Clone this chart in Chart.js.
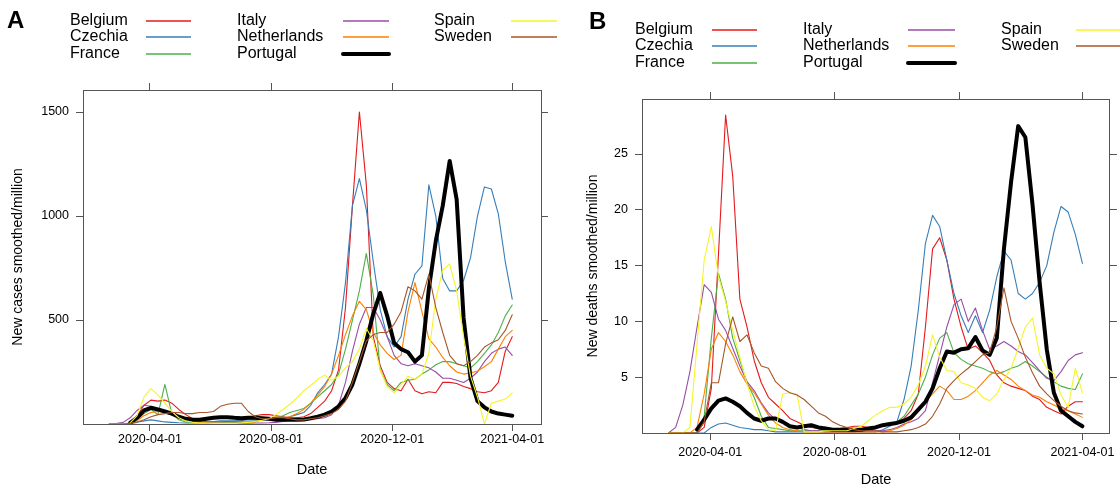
<!DOCTYPE html>
<html>
<head>
<meta charset="utf-8">
<script src="https://cdn.jsdelivr.net/npm/chart.js@4.4.1/dist/chart.umd.min.js"></script>
<style>
  body { margin: 0; background: #fff; }
  #wrap { position: relative; width: 1120px; height: 489px; overflow: hidden; }
  canvas { position: absolute; top: 0; }
  #chartA { left: 0; }
  #chartB { left: 560px; }
</style>
</head>
<body>
<div id="wrap">
  <canvas id="chartA" width="560" height="489"></canvas>
  <canvas id="chartB" width="560" height="489"></canvas>
</div>
<script>
const countries = ['Belgium', 'Czechia', 'France', 'Italy', 'Netherlands', 'Portugal', 'Spain', 'Sweden']

// days since 2020-01-01, weekly samples
const days = [50, 57, 64, 71, 78, 85, 92, 99, 106, 113, 120, 127, 134, 141, 148, 155, 162, 169, 176, 183,
  190, 197, 204, 211, 218, 225, 232, 239, 246, 253, 260, 267, 274, 281, 288, 295, 302, 309, 316, 323,
  330, 337, 344, 351, 358, 365, 372, 379, 386, 393, 400, 407, 414, 421, 428, 435, 442, 449, 456]
const tickDays = [91, 213, 335, 456]
const tickLabels = ['2020-04-01', '2020-08-01', '2020-12-01', '2021-04-01']
const casesTicks = [500, 1000, 1500]
const deathsTicks = [5, 10, 15, 20, 25]

// new cases smoothed per million (null = no data yet)
const casesBelgium = [0, 0, 0, 5, 40, 90, 115, 110, 115, 100, 70, 45, 25, 15, 12, 10, 10, 12, 12, 15,
  25, 40, 45, 45, 40, 35, 30, 30, 35, 50, 80, 110, 160, 260, 560, 1050, 1500, 1150, 420, 280,
  200, 170, 160, 215, 160, 145, 155, 150, 200, 200, 195, 180, 170, 155, 150, 160, 200, 350, 420]
const casesCzechia = [0, 0, 0, 2, 8, 15, 20, 15, 10, 8, 6, 5, 5, 5, 8, 12, 15, 15, 15, 18,
  20, 20, 20, 20, 22, 25, 35, 45, 55, 90, 150, 190, 240, 420, 680, 1050, 1180, 1030, 780, 550,
  420, 370, 420, 600, 720, 760, 1150, 1000, 700, 640, 640, 690, 800, 1000, 1140, 1130, 1010, 780, 600]
const casesFrance = [0, 0, 0, 3, 20, 50, 70, 45, 190, 50, 20, 10, 8, 7, 6, 6, 6, 8, 8, 10,
  12, 15, 20, 25, 30, 40, 55, 65, 75, 100, 130, 160, 190, 240, 360, 500, 640, 820, 620, 260,
  190, 160, 200, 210, 215, 240, 260, 285, 300, 300, 290, 280, 270, 300, 340, 380, 440, 520, 572]
const casesItaly = [0, 2, 8, 30, 65, 90, 85, 70, 55, 45, 35, 25, 15, 10, 6, 5, 4, 3, 3, 3,
  4, 5, 5, 6, 8, 12, 18, 22, 25, 25, 25, 30, 45, 90, 200, 350, 480, 560, 560, 500,
  420, 330, 290, 280, 290, 280, 270, 250, 220, 220, 210, 200, 220, 250, 300, 340, 360, 370, 330]
const casesNetherlands = [0, 0, 0, 3, 15, 40, 55, 60, 55, 45, 30, 20, 12, 8, 5, 3, 3, 3, 3, 4,
  6, 10, 20, 30, 35, 30, 35, 50, 70, 100, 140, 180, 240, 330, 430, 520, 590, 550, 440, 380,
  340, 310, 330, 540, 680, 540, 410, 370, 320, 280, 250, 240, 245, 255, 275, 300, 360, 420, 450]
const casesPortugal = [null, null, null, 5, 30, 65, 78, 70, 60, 50, 35, 25, 20, 20, 25, 30, 33, 33, 30, 28,
  30, 30, 28, 25, 20, 20, 20, 20, 22, 28, 35, 45, 60, 85, 125, 190, 290, 400, 530, 630,
  520, 390, 360, 345, 300, 330, 650, 880, 1050, 1265, 1080, 510, 220, 110, 80, 60, 50, 45, 40]
const casesSpain = [0, 0, 0, 5, 40, 130, 170, 140, 100, 60, 30, 15, 8, 5, 5, 3, 3, 3, 3, 5,
  8, 12, 18, 25, 45, 70, 95, 125, 160, 185, 215, 235, 210, 230, 270, 300, 360, 460, 400, 260,
  180, 150, 190, 230, 215, 240, 340, 600, 740, 770, 640, 420, 230, 130, 0, 100, 110, 120, 150]
const casesSweden = [0, 0, 0, 3, 10, 20, 35, 45, 50, 55, 55, 50, 50, 55, 55, 60, 85, 95, 100, 100,
  60, 35, 25, 25, 30, 30, 25, 20, 20, 25, 30, 40, 50, 70, 110, 200, 300, 400, 430, 440,
  440, 480, 540, 660, 640, 600, 720, 560, 440, 330, 290, 280, 300, 330, 370, 390, 405, 450, 525]

// new deaths smoothed per million
const deathsBelgium = [0, 0, 0, 0, 0, 0.5, 4, 16, 28.5, 23, 12, 9.5, 6.5, 4.5, 3.2, 2.6, 2, 1.3, 1, 0.7,
  0.5, 0.4, 0.3, 0.3, 0.4, 0.5, 0.6, 0.6, 0.5, 0.5, 0.6, 0.8, 1, 1.3, 2, 3.5, 9.5, 16.5, 17.5, 15.5,
  12, 9.5, 7.5, 7.8, 7.2, 6.5, 5.2, 4.5, 4.2, 4, 3.8, 3.3, 3, 2.3, 2, 1.7, 2.4, 2.8, 2.8]
const deathsCzechia = [0, 0, 0, 0, 0, 0, 0.5, 0.8, 0.9, 0.7, 0.5, 0.4, 0.3, 0.3, 0.2, 0.1, 0.1, 0.1, 0.1, 0.1,
  0.1, 0.1, 0.1, 0.1, 0.1, 0.1, 0.1, 0.1, 0.1, 0.1, 0.3, 0.6, 1, 3, 6, 11, 17, 19.5, 18.5, 15.5,
  12.5, 10.5, 9, 10.5, 9, 11, 14, 16.3, 15.5, 12.5, 12, 12.5, 13.5, 15, 18, 20.3, 19.8, 17.8, 15.2]
const deathsFrance = [0, 0, 0, 0, 0, 1.5, 8.5, 14.3, 12, 8.5, 6.5, 4.5, 3.2, 1.5, 0.5, 0.4, 0.3, 0.2, 0.2, 0.2,
  0.2, 0.2, 0.2, 0.2, 0.2, 0.2, 0.2, 0.2, 0.3, 0.4, 0.6, 0.8, 1, 1.5, 2.5, 3.5, 5, 7, 8.5, 9,
  7.2, 6.6, 6.2, 6, 5.8, 5.5, 5.3, 5.5, 5.8, 6, 6.4, 6, 5.5, 5, 4.6, 4.2, 4, 3.9, 5.3]
const deathsItaly = [0, 0.5, 2.5, 5.5, 9.5, 13.3, 12.6, 10.2, 9.2, 7.6, 6, 4.6, 3.8, 2.7, 1.8, 1.2, 0.9, 0.7, 0.5, 0.3,
  0.2, 0.2, 0.1, 0.1, 0.1, 0.1, 0.1, 0.2, 0.2, 0.2, 0.2, 0.3, 0.5, 0.8, 1, 1.3, 2, 4.5, 7, 9.5,
  11.5, 12, 10, 11.2, 9.2, 7.5, 7.8, 8.2, 7.8, 7.3, 7, 6.3, 5.6, 4.9, 4.7, 5.5, 6.5, 7, 7.2]
const deathsNetherlands = [0, 0, 0, 0, 0.5, 3.5, 7.5, 9, 8.2, 7, 5.5, 4.4, 3.6, 2.6, 1.6, 0.9, 0.5, 0.3, 0.2, 0.1,
  0.1, 0.1, 0.1, 0.1, 0.1, 0.1, 0.1, 0.1, 0.1, 0.1, 0.1, 0.2, 0.4, 0.7, 1.2, 2, 2.8, 3.5, 4.2, 3.8,
  3, 3, 3.3, 3.8, 4.5, 5.2, 5.6, 5.2, 4.8, 4.2, 3.8, 3.4, 3.2, 2.8, 2.5, 2.2, 2, 1.7, 1.4]
const deathsPortugal = [null, null, null, null, 0.3, 1.2, 2.2, 2.9, 3.1, 2.8, 2.4, 1.8, 1.3, 1.1, 1.3, 1.3, 1, 0.6, 0.5, 0.6,
  0.7, 0.5, 0.4, 0.3, 0.3, 0.3, 0.3, 0.3, 0.4, 0.5, 0.7, 0.8, 0.9, 1.1, 1.4, 2.1, 2.8, 4, 5.8, 7.3,
  7.2, 7.5, 7.6, 8.6, 7.4, 7, 8.5, 16.5, 22.5, 27.5, 26.5, 20.5, 13.5, 7.5, 3.6, 2, 1.5, 1, 0.6]
const deathsSpain = [0, 0, 0, 0.5, 8, 15.5, 18.5, 14, 11.8, 9.2, 6.8, 4.4, 2.4, 1.1, 0.3, 0.2, 3.5, 3.6, 3.5, 0.1,
  0.1, 0.1, 0.2, 0.2, 0.2, 0.2, 0.4, 0.6, 1.1, 1.6, 2, 2.3, 2.3, 2.6, 3.2, 4.3, 6, 8.8, 6.8, 5.6,
  5.5, 4.5, 4.3, 4, 3.2, 2.9, 3.5, 4.8, 5.8, 7.6, 9.5, 10.3, 7, 5.8, 5.3, 3.4, 2.3, 5.8, 3.6]
const deathsSweden = [0, 0, 0, 0, 0, 1, 4.5, 4.5, 8, 10.4, 8.2, 8.8, 7.2, 6, 5.8, 4.6, 4, 3.6, 3.4, 3,
  2.4, 1.8, 1.5, 1, 0.7, 0.5, 0.3, 0.2, 0.2, 0.2, 0.1, 0.1, 0.1, 0.2, 0.3, 0.5, 0.8, 1.5, 2.6, 4,
  4.7, 5.3, 5.8, 6.4, 7, 7.2, 9.5, 13, 10, 8.5, 6.8, 5.4, 4.2, 3.5, 2.9, 2.4, 2, 1.8, 1.7]

const colors = ['#e41a1c', '#377eb8', '#4daf4a', '#984ea3', '#ff7f00', '#000000', '#f5f52a', '#a65628']
const FONT = '"Liberation Sans", Arial, Helvetica, sans-serif'

Chart.defaults.font.family = FONT
Chart.defaults.color = '#000'

// lattice-style key: three columns, text then a line sample
const keyPlugin = {
  id: 'panelKey',
  afterDraw(chart, args, opts) {
    const ctx = chart.ctx
    ctx.save()
    ctx.textAlign = 'left'
    ctx.textBaseline = 'middle'
    ctx.fillStyle = '#000'
    ctx.font = 'bold 24px ' + FONT
    ctx.fillText(opts.letter, opts.letterX, opts.letterY)
    ctx.font = '16px ' + FONT
    chart.data.datasets.forEach((ds, i) => {
      const col = Math.floor(i / 3)
      const y = opts.rowsY[i % 3]
      ctx.fillStyle = '#000'
      ctx.fillText(ds.label, opts.textX[col], y)
      const thick = ds.borderWidth > 2
      ctx.beginPath()
      ctx.strokeStyle = ds.borderColor
      ctx.lineWidth = thick ? ds.borderWidth : 1.6
      ctx.lineCap = thick ? 'round' : 'butt'
      ctx.moveTo(opts.lineX[col][0], y)
      ctx.lineTo(opts.lineX[col][1], y)
      ctx.stroke()
    })
    ctx.restore()
  }
}

function buildChart(id, series, cfg) {
  const datasets = countries.map((name, i) => ({
    label: name,
    data: days.map((d, j) => ({ x: d, y: series[i][j] })),
    borderColor: colors[i],
    backgroundColor: colors[i],
    borderWidth: name === 'Portugal' ? 4 : 1.1,
    borderJoinStyle: 'round',
    borderCapStyle: 'round',
    pointRadius: 0,
    tension: 0,
    fill: false,
    order: countries.length - i
  }))
  const grid = { display: true, drawOnChartArea: false, drawTicks: true, tickLength: 7, color: '#555', lineWidth: 1 }
  const border = { display: true, color: '#555', width: 1 }
  const setX = s => { s.ticks = tickDays.map(v => ({ value: v })) }
  const setY = s => { s.ticks = cfg.yTicks.map(v => ({ value: v })) }
  return new Chart(document.getElementById(id), {
    type: 'line',
    data: { datasets },
    plugins: [keyPlugin],
    options: {
      responsive: false,
      animation: false,
      devicePixelRatio: 1,
      layout: { padding: { top: cfg.padTop, right: cfg.padRight, left: 0, bottom: 0 } },
      scales: {
        x: {
          type: 'linear', position: 'bottom', min: cfg.xMin, max: cfg.xMax,
          afterBuildTicks: setX,
          afterFit: s => { s.height = cfg.xHeight },
          ticks: {
            callback: v => tickLabels[tickDays.indexOf(v)],
            autoSkip: false, maxRotation: 0, padding: cfg.xPad,
            font: { size: 12.5 }, color: '#000'
          },
          grid, border,
          title: { display: true, text: 'Date', font: { size: 14.5 }, color: '#000', padding: { top: 0, bottom: cfg.xTitlePad } }
        },
        x2: {
          type: 'linear', position: 'top', min: cfg.xMin, max: cfg.xMax,
          afterBuildTicks: setX,
          afterFit: s => { s.height = 7 },
          ticks: { display: false },
          grid, border
        },
        y: {
          type: 'linear', position: 'left', min: 0, max: cfg.yMax,
          afterBuildTicks: setY,
          afterFit: s => { s.width = cfg.yWidth },
          ticks: { callback: v => String(v), padding: 7, font: { size: 12.5 }, color: '#000' },
          grid, border,
          title: { display: true, text: cfg.yTitle, font: { size: 14 }, color: '#000', padding: { top: cfg.yTitlePad, bottom: 0 } }
        },
        y2: {
          type: 'linear', position: 'right', min: 0, max: cfg.yMax,
          afterBuildTicks: setY,
          afterFit: s => { s.width = 7 },
          ticks: { display: false },
          grid, border
        }
      },
      plugins: {
        legend: { display: false },
        tooltip: { enabled: false },
        panelKey: cfg.key
      }
    }
  })
}

buildChart('chartA',
  [casesBelgium, casesCzechia, casesFrance, casesItaly, casesNetherlands, casesPortugal, casesSpain, casesSweden],
  {
    xMin: 23.5, xMax: 485, yMax: 1606, yTicks: casesTicks,
    padTop: 83, padRight: 12, xHeight: 65, yWidth: 83, xPad: 1, xTitlePad: 10, yTitlePad: 10,
    yTitle: 'New cases smoothed/million',
    key: { letter: 'A', letterX: 7, letterY: 21, textX: [70, 237, 434], lineX: [[146, 191], [343, 389], [511, 557]], rowsY: [21, 37, 54] }
  })

buildChart('chartB',
  [deathsBelgium, deathsCzechia, deathsFrance, deathsItaly, deathsNetherlands, deathsPortugal, deathsSpain, deathsSweden],
  {
    xMin: 24, xMax: 483, yMax: 29.93, yTicks: deathsTicks,
    padTop: 92, padRight: 0, xHeight: 56, yWidth: 82, xPad: 5, xTitlePad: 0, yTitlePad: 25,
    yTitle: 'New deaths smoothed/million',
    key: { letter: 'B', letterX: 29, letterY: 22, textX: [75, 243, 441], lineX: [[152, 197], [348, 395], [516, 562]], rowsY: [30, 46, 63] }
  })
</script>
</body>
</html>
